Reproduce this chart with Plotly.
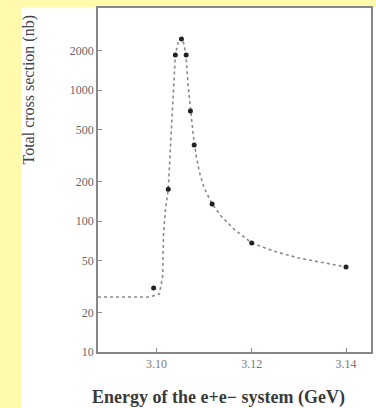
import plotly.graph_objects as go

# measured points
energy = [3.0994, 3.1025, 3.1040, 3.1053, 3.1063, 3.1072, 3.1080, 3.1118, 3.1202, 3.1402]
cross_section = [30.8, 175, 1850, 2450, 1850, 690, 381, 135, 68, 44.6]

# dashed guide curve
curve_energy = [3.0876, 3.0985, 3.1006, 3.1013, 3.1015, 3.1019, 3.1025, 3.1029, 3.1034, 3.1038,
                3.1040, 3.1046, 3.1053, 3.1059, 3.1063, 3.1067, 3.1072, 3.1078, 3.1084, 3.1091,
                3.1101, 3.1118, 3.1137, 3.1164, 3.1202, 3.1248, 3.1301, 3.1354, 3.1402]
curve_sigma = [26.3, 26.3, 27.7, 37.4, 80.9, 121, 175, 348, 703, 1303,
               1850, 2323, 2495, 2208, 1754, 1091, 690, 453, 319, 237,
               179, 135, 109, 86.9, 68, 59, 52.2, 47.8, 44.6]

x_tickvals = [3.10, 3.1202, 3.1402]
x_ticktext = ["3.10", "3.12", "3.14"]
y_tickvals = [10, 20, 50, 100, 200, 500, 1000, 2000]
y_ticktext = ["10", "20", "50", "100", "200", "500", "1000", "2000"]

W, H = 376, 408
ML, MR, MT, MB = 98, 3, 8, 56
pw, ph = W - ML - MR, H - MT - MB

def px(x):
    return (x - ML) / pw

def py(y):
    return (H - MB - y) / ph

fig = go.Figure()
fig.add_trace(go.Scatter(x=curve_energy, y=curve_sigma, mode="lines",
                         line=dict(color="#8a8a8a", width=1.6, dash="3px,3px"),
                         hoverinfo="skip", showlegend=False))
fig.add_trace(go.Scatter(x=energy, y=cross_section, mode="markers",
                         marker=dict(color="#222222", size=5),
                         showlegend=False))

font = "Liberation Serif, DejaVu Serif, serif"
fig.update_layout(
    width=W, height=H,
    margin=dict(l=ML, r=MR, t=MT, b=MB),
    paper_bgcolor="#fffaac",
    plot_bgcolor="white",
    font=dict(family=font, color="#555555"),
    xaxis=dict(range=[3.0876, 3.1455], tickvals=x_tickvals, ticktext=x_ticktext,
               showgrid=False, zeroline=False, showline=True, linecolor="#888888",
               linewidth=1.5, mirror=True, ticks="inside", ticklen=4, tickcolor="#888888",
               tickfont=dict(size=12, color="#777777")),
    yaxis=dict(type="log", range=[1, 3.626], tickvals=y_tickvals, ticktext=y_ticktext,
               showgrid=False, zeroline=False, showline=True, linecolor="#888888",
               linewidth=1.5, mirror=True, ticks="inside", ticklen=4, tickcolor="#888888",
               tickfont=dict(size=12, color="#666666")),
    shapes=[dict(type="rect", xref="paper", yref="paper",
                 x0=px(21), x1=px(W + 5), y0=py(H + 5), y1=py(7),
                 fillcolor="white", line=dict(width=0), layer="below")],
    annotations=[
        dict(text="<b>Energy of the e+e\u2212 system (GeV)</b>", xref="paper", yref="paper",
             x=px(90), y=py(397), xanchor="left", yanchor="middle", showarrow=False,
             font=dict(size=18, color="#3a3a3a", family=font)),
        dict(text="Total cross section (nb)", xref="paper", yref="paper",
             x=px(28), y=py(90), xanchor="center", yanchor="middle", showarrow=False,
             textangle=-90, font=dict(size=16, color="#444444", family=font)),
    ],
)
fig.write_html("out.html",
               config={"displayModeBar": False},
               post_script="document.body.style.margin='0';document.body.style.padding='0';")
